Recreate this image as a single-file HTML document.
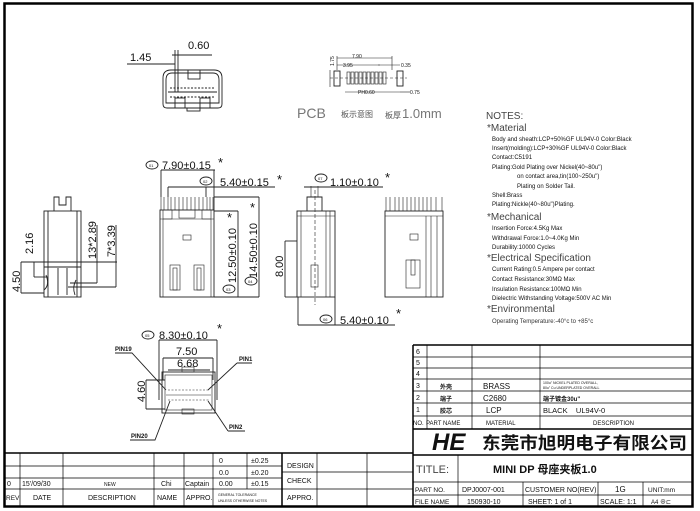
<!DOCTYPE html>
<html><head><meta charset="utf-8"><style>
html,body{margin:0;padding:0;background:#fff;}
svg{display:block;}
text{font-family:"Liberation Sans","Noto Sans CJK SC",sans-serif;fill:#111;}
.s{font-size:6px;fill:#333;}
.h{font-size:10px;fill:#444;}
.d{font-size:11px;}
</style></head><body>
<svg width="700" height="511" viewBox="0 0 700 511" xmlns="http://www.w3.org/2000/svg">
<rect x="0" y="0" width="700" height="511" fill="#fff"/>
<rect x="4.5" y="3.5" width="688" height="503" fill="none" stroke="#000" stroke-width="2.5"/>

<g stroke="#222" stroke-width="0.9" fill="none">
<path d="M163,78 Q163,70 171,70 L214,70 Q222,70 222,78 L222,104 Q222,108 218,108 L167,108 Q163,108 163,104 Z"/>
<path d="M166,80 Q166,73 172,73 L213,73 Q219,73 219,80 L219,103 L166,103 Z"/>
<rect x="188" y="70" width="12" height="9"/>
<rect x="175" y="98" width="10" height="10"/><rect x="200" y="98" width="10" height="10"/>
<rect x="187" y="108" width="13" height="3"/>
<line x1="170" y1="88" x2="215" y2="88" stroke-dasharray="2,1.5"/>
<line x1="170" y1="97" x2="215" y2="97" stroke-dasharray="2,1.5"/>
<line x1="168" y1="92" x2="217" y2="92"/>
<line x1="175" y1="50" x2="175" y2="92"/><line x1="178" y1="50" x2="178" y2="92"/>
<line x1="127" y1="64" x2="175" y2="64"/><line x1="172" y1="55" x2="212" y2="55"/>
<rect x="334" y="71" width="6" height="15"/><rect x="397" y="71" width="6" height="15"/>
<g stroke-width="0.6">
<rect x="347" y="72" width="3" height="12"/><rect x="351" y="72" width="3" height="12"/><rect x="355" y="72" width="3" height="12"/><rect x="359" y="72" width="3" height="12"/><rect x="363" y="72" width="3" height="12"/><rect x="367" y="72" width="3" height="12"/><rect x="371" y="72" width="3" height="12"/><rect x="375" y="72" width="3" height="12"/><rect x="379" y="72" width="3" height="12"/><rect x="383" y="72" width="3" height="12"/>
<line x1="330" y1="78" x2="407" y2="78" stroke-dasharray="3,2"/>
<line x1="337" y1="58" x2="392" y2="58"/><line x1="337" y1="56" x2="337" y2="70"/><line x1="392" y1="56" x2="392" y2="70"/>
<line x1="337" y1="65" x2="380" y2="65"/><line x1="378" y1="65" x2="400" y2="65"/>
<line x1="330" y1="70" x2="330" y2="87"/>
<line x1="345" y1="92" x2="400" y2="92"/><line x1="400" y1="92" x2="410" y2="92"/>
</g>
<rect x="44" y="211" width="37" height="86"/>
<path d="M54,211 L54,197 L59,197 L59,205 L66,205 L66,197 L71,197 L71,211"/>
<line x1="48" y1="211" x2="48" y2="297"/><line x1="77" y1="211" x2="77" y2="297"/>
<line x1="44" y1="262" x2="81" y2="262"/><line x1="44" y1="267" x2="81" y2="267"/>
<path d="M46,275 Q50,285 44,290 M76,280 Q72,287 75,295 M58,268 L58,295 M67,268 L67,295"/>
<line x1="21" y1="262" x2="117" y2="262"/>
<line x1="21" y1="262" x2="21" y2="293"/><line x1="21" y1="293" x2="44" y2="293"/>
<line x1="34" y1="262" x2="34" y2="277"/><line x1="34" y1="277" x2="48" y2="277"/>
<line x1="97" y1="225" x2="97" y2="283"/><line x1="70" y1="283" x2="97" y2="283"/>
<line x1="116" y1="225" x2="116" y2="287"/><line x1="68" y1="287" x2="116" y2="287"/>
<rect x="160" y="210" width="54" height="87"/>
<g stroke-width="0.6">
<path d="M161,210 V197 M164,210 V197 M168,210 V197 M171,210 V197 M175,210 V197 M179,210 V197 M183,210 V197 M187,210 V197 M191,210 V197 M195,210 V197 M199,210 V197 M203,210 V197 M207,210 V197 M210,210 V197 M213,210 V197"/>
<path d="M163,210 V219 H172 V210 M179,210 V218 H195 V210 M202,210 V219 H211 V210"/>
<line x1="160" y1="219" x2="214" y2="219"/>
<line x1="163" y1="219" x2="163" y2="297"/><line x1="211" y1="219" x2="211" y2="297"/>
<rect x="183" y="235" width="8" height="5"/>
<rect x="170" y="265" width="10" height="25"/><rect x="173" y="268" width="4" height="22"/>
<rect x="194" y="265" width="10" height="25"/><rect x="197" y="268" width="4" height="22"/>
</g>
<line x1="161" y1="170" x2="215" y2="170"/><line x1="161" y1="170" x2="161" y2="197"/><line x1="214" y1="170" x2="214" y2="210"/>
<line x1="168" y1="187" x2="275" y2="187"/><line x1="168" y1="187" x2="168" y2="197"/><line x1="206" y1="187" x2="206" y2="197"/>
<line x1="214" y1="211" x2="238" y2="211"/><line x1="238" y1="211" x2="238" y2="297"/>
<line x1="214" y1="197" x2="259" y2="197"/><line x1="259" y1="197" x2="259" y2="297"/>
<line x1="214" y1="297" x2="259" y2="297"/>
<rect x="297" y="211" width="38" height="86"/>
<path d="M307,211 V197 H322 V211"/>
<g stroke-width="0.6">
<line x1="311" y1="186" x2="311" y2="197"/><line x1="318" y1="186" x2="318" y2="197"/>
<line x1="301" y1="211" x2="301" y2="297"/><line x1="326" y1="211" x2="326" y2="297"/><line x1="330" y1="211" x2="330" y2="297"/>
<line x1="297" y1="216" x2="335" y2="216"/>
<line x1="315" y1="190" x2="315" y2="305" stroke-dasharray="4,2"/>
<rect x="311" y="265" width="7" height="22"/>
</g>
<line x1="304" y1="187" x2="383" y2="187"/>
<line x1="285" y1="241" x2="297" y2="241"/><line x1="285" y1="241" x2="285" y2="297"/><line x1="285" y1="297" x2="297" y2="297"/>
<line x1="298" y1="297" x2="298" y2="325"/><line x1="335" y1="297" x2="335" y2="325"/><line x1="298" y1="325" x2="395" y2="325"/>
<rect x="385" y="211" width="58" height="86"/>
<g stroke-width="0.6">
<path d="M386,211 V197 M390,211 V197 M395,211 V197 M399,211 V197 M403,211 V197 M407,211 V197 M411,211 V197 M415,211 V197 M419,211 V197 M423,211 V197 M427,211 V197 M431,211 V197 M436,211 V197 M442,211 V197"/>
<line x1="385" y1="216" x2="443" y2="216"/>
<line x1="426" y1="216" x2="426" y2="297"/><line x1="431" y1="216" x2="431" y2="297"/><line x1="437" y1="216" x2="437" y2="297"/>
<rect x="410" y="234" width="8" height="6"/>
<rect x="406" y="260" width="14" height="28"/><rect x="411" y="260" width="4" height="15"/>
</g>
<rect x="162" y="372" width="53" height="41"/>
<g stroke-width="0.6">
<rect x="165" y="375" width="47" height="35"/>
<line x1="168" y1="390" x2="209" y2="390" stroke-dasharray="2,1.5"/>
<line x1="168" y1="400" x2="209" y2="400" stroke-dasharray="2,1.5"/>
<line x1="166" y1="395" x2="211" y2="395"/>
<rect x="182" y="367" width="12" height="5"/><rect x="182" y="409" width="12" height="5"/>
</g>
<line x1="159" y1="340" x2="217" y2="340"/><line x1="159" y1="340" x2="159" y2="400"/><line x1="217" y1="340" x2="217" y2="400"/>
<line x1="163" y1="358" x2="213" y2="358"/><line x1="163" y1="358" x2="163" y2="380"/><line x1="213" y1="358" x2="213" y2="380"/>
<line x1="168" y1="370" x2="210" y2="370"/>
<line x1="146" y1="380" x2="165" y2="380"/><line x1="146" y1="409" x2="165" y2="409"/><line x1="146" y1="380" x2="146" y2="409"/>
<path d="M115,353 H132 L166,390 M237,363 H252 M237,363 L208,390 M130,440 H155 L170,401 M228,431 H245 M228,431 L208,401"/>
<ellipse cx="152" cy="165" rx="6" ry="4"/><ellipse cx="206" cy="181" rx="6" ry="4"/>
<ellipse cx="229" cy="289" rx="6" ry="4"/><ellipse cx="251" cy="281" rx="6" ry="4"/>
<ellipse cx="321" cy="178" rx="6" ry="4"/><ellipse cx="326" cy="319" rx="6" ry="4"/>
<ellipse cx="148" cy="335" rx="6" ry="4"/>
</g>

<g class="d">
<text x="130" y="61" font-size="11">1.45</text>
<text x="188" y="49" font-size="11">0.60</text>
<text x="162" y="169">7.90±0.15</text><text x="218" y="167" font-size="13">*</text>
<text x="220" y="186">5.40±0.15</text><text x="277" y="184" font-size="13">*</text>
<text x="330" y="186">1.10±0.10</text><text x="385" y="182" font-size="13">*</text>
<text x="340" y="324">5.40±0.10</text><text x="396" y="318" font-size="13">*</text>
<text x="159" y="339">8.30±0.10</text><text x="217" y="333" font-size="13">*</text>
<text x="176" y="355">7.50</text><text x="177" y="367">6.68</text>
<text x="227" y="222" font-size="13">*</text><text x="250" y="212" font-size="13">*</text>
<text transform="translate(236,283) rotate(-90)">12.50±0.10</text>
<text transform="translate(257,278) rotate(-90)">14.50±0.10</text>
<text transform="translate(283,277) rotate(-90)">8.00</text>
<text transform="translate(20,292) rotate(-90)">4.50</text>
<text transform="translate(33,254) rotate(-90)">2.16</text>
<text transform="translate(96,259) rotate(-90)">13*2.89</text>
<text transform="translate(115,257) rotate(-90)">7*3.39</text>
<text transform="translate(145,402) rotate(-90)">4.60</text>
</g>
<g>
<text x="149" y="167" font-size="4">01</text><text x="203" y="183" font-size="4">02</text>
<text x="226" y="291" font-size="4">03</text><text x="248" y="283" font-size="4">04</text>
<text x="318" y="180" font-size="4">07</text><text x="323" y="321" font-size="4">06</text>
<text x="145" y="337" font-size="4">05</text>
</g>
<g font-size="6" font-weight="bold">
<text x="115" y="351">PIN19</text><text x="239" y="361">PIN1</text>
<text x="131" y="438">PIN20</text><text x="229" y="429">PIN2</text>
</g>
<g font-size="5" fill="#333">
<text x="352" y="58">7.90</text><text x="343" y="67">3.95</text><text x="401" y="67">0.35</text>
<text x="358" y="94">PH0.60</text><text x="410" y="94">0.75</text>
<text transform="translate(334,66) rotate(-90)">1.75</text>
</g>
<text x="297" y="118" font-size="14" style="fill:#777">PCB</text>
<text x="341" y="117" font-size="8" style="fill:#555">板示意图</text>
<text x="385" y="118" font-size="8" style="fill:#555">板厚</text>
<text x="402" y="118" font-size="13" style="fill:#777">1.0mm</text>

<text x="486" y="119" class="h">NOTES:</text>
<text x="487" y="131" class="h">*Material</text>
<g class="s">
<text x="492" y="141">Body and sheath:LCP+50%GF UL94V-0 Color:Black</text>
<text x="492" y="150">Insert(molding):LCP+30%GF UL94V-0 Color:Black</text>
<text x="492" y="159">Contact:C5191</text>
<text x="492" y="169">Plating:Gold Plating over Nickel(40~80u")</text>
<text x="517" y="178">on contact area,tin(100~250u")</text>
<text x="517" y="188">Plating on Solder Tail.</text>
<text x="492" y="197">Shell:Brass</text>
<text x="492" y="206">Plating:Nickle(40~80u")Plating.</text>
</g>
<text x="487" y="220" class="h">*Mechanical</text>
<g class="s">
<text x="492" y="230">Insertion Force:4.5Kg Max</text>
<text x="492" y="240">Withdrawal Force:1.0~4.0Kg Min</text>
<text x="492" y="249">Durability:10000 Cycles</text>
</g>
<text x="487" y="261" class="h">*Electrical Specification</text>
<g class="s">
<text x="492" y="271">Current Rating:0.5 Ampere per contact</text>
<text x="492" y="281">Contact Resistance:30MΩ Max</text>
<text x="492" y="291">Insulation Resistance:100MΩ Min</text>
<text x="492" y="300">Dielectric Withstanding Voltage:500V AC Min</text>
</g>
<text x="487" y="312" class="h">*Environmental</text>
<text x="492" y="323" class="s">Operating Temperature:-40°c to +85°c</text>

<g stroke="#000" fill="none">
<path d="M413,345 H692 M413,345 V507" stroke-width="1.5"/>
<path stroke-width="0.7" d="M413,357 H692 M413,368 H692 M413,379 H692 M413,391 H692 M413,403 H692 M413,416 H692 M427,345 V429 M472,345 V429 M540,345 V429"/>
<path stroke-width="1.5" d="M413,429 H692 M413,455 H692"/>
<path stroke-width="0.7" d="M413,482 H692 M413,495 H692 M458,455 V507 M523,482 V507 M598,482 V507 M643,482 V507"/>
<path stroke-width="1.5" d="M4,453 H413 M282,453 V507"/>
<path stroke-width="0.7" d="M4,466 H282 M4,478 H282 M4,489 H413 M282,472 H413 M20,453 V507 M63,453 V507 M154,453 V507 M184,453 V507 M213,453 V507 M247,453 V489 M317,453 V507 M367,453 V507"/>
</g>
<g font-size="7">
<text x="416" y="354">6</text><text x="416" y="365">5</text><text x="416" y="376">4</text><text x="416" y="388">3</text><text x="416" y="400">2</text><text x="416" y="412">1</text>
<text x="413" y="425" font-size="6">NO.</text><text x="426" y="425" font-size="6">PART NAME</text><text x="486" y="425" font-size="6">MATERIAL</text><text x="593" y="425" font-size="6">DESCRIPTION</text>
<text x="440" y="389" font-size="6" font-weight="bold">外壳</text><text x="440" y="401" font-size="6" font-weight="bold">端子</text><text x="440" y="413" font-size="6" font-weight="bold">胶芯</text>
<text x="483" y="389" font-size="8">BRASS</text><text x="483" y="401" font-size="8">C2680</text><text x="486" y="413" font-size="8">LCP</text>
<text x="543" y="384" font-size="3.5">100u" NICKEL PLATED OVERALL,</text><text x="543" y="389" font-size="3.5">80u" Cu UNDERPLATED OVERALL</text>
<text x="543" y="401" font-size="6" font-weight="bold">端子镀金30u"</text>
<text x="543" y="413" font-size="7.5">BLACK&#160;&#160;&#160; UL94V-0</text>
<text x="432" y="450" font-size="24" font-style="italic" font-weight="bold" font-family="Liberation Serif,serif">HE</text>
<text x="482" y="449" font-size="17" font-weight="bold" font-family="Liberation Serif,'Noto Serif CJK SC',serif" textLength="205" lengthAdjust="spacingAndGlyphs">东莞市旭明电子有限公司</text>
<text x="416" y="473" font-size="11" style="fill:#444">TITLE:</text>
<text x="493" y="473" font-size="11" font-weight="bold" font-family="Liberation Mono,'Noto Serif CJK SC',monospace">MINI DP 母座夹板1.0</text>
<text x="415" y="492" font-size="6.5">PART NO.</text><text x="462" y="492" font-size="7">DPJ0007-001</text>
<text x="525" y="492" font-size="7">CUSTOMER NO(REV)</text><text x="615" y="492" font-size="8">1G</text><text x="648" y="492" font-size="6.5">UNIT:mm</text>
<text x="415" y="504" font-size="6.5">FILE NAME</text><text x="467" y="504" font-size="7">150930-10</text>
<text x="528" y="504" font-size="7">SHEET: 1 of 1</text><text x="600" y="504" font-size="7">SCALE: 1:1</text><text x="651" y="504" font-size="6">A4 ⊕⊏</text>
<text x="219" y="463">0</text><text x="251" y="463">±0.25</text>
<text x="219" y="475">0.0</text><text x="251" y="475">±0.20</text>
<text x="7" y="486">0</text><text x="22" y="486">15'/09/30</text><text x="104" y="486" font-size="5">NEW</text>
<text x="161" y="486">Chi</text><text x="185" y="486">Captain</text><text x="219" y="486">0.00</text><text x="251" y="486">±0.15</text>
<text x="6" y="500" font-size="6.5">REV</text><text x="33" y="500">DATE</text><text x="88" y="500">DESCRIPTION</text>
<text x="157" y="500">NAME</text><text x="186" y="500">APPRO.</text>
<text x="218" y="496" font-size="3.5">GENERAL TOLERANCE</text><text x="218" y="502" font-size="3.5">UNLESS OTHERWISE NOTES</text>
<text x="287" y="468">DESIGN</text><text x="287" y="483">CHECK</text><text x="287" y="500">APPRO.</text>
</g>
</svg>
</body></html>
